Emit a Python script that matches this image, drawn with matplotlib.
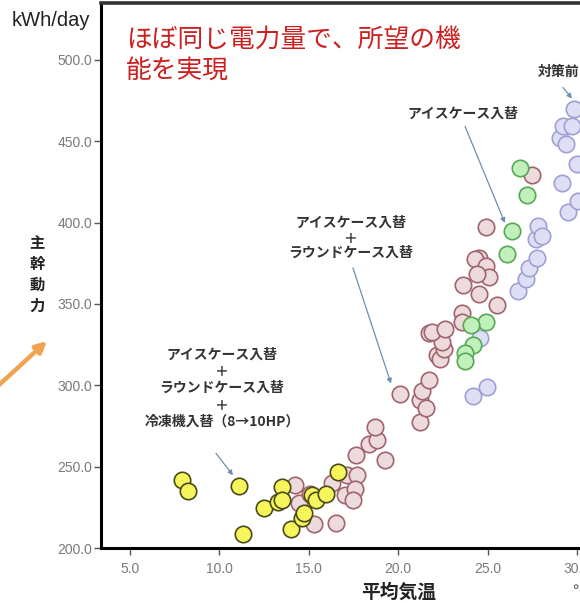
import matplotlib
matplotlib.use("Agg")
import matplotlib.pyplot as plt
from matplotlib.ticker import FormatStrFormatter

JP = ["Noto Sans CJK JP", "DejaVu Sans"]
LAT = ["Liberation Sans", "DejaVu Sans"]

# Daily main power (kWh/day) versus mean air temperature, by retrofit stage
before_temp = [24.20, 24.98, 24.57, 26.72, 27.15, 27.34, 27.75, 27.71, 27.84, 28.03,
               29.14, 29.50, 30.07, 29.98, 29.05, 29.40, 29.20, 29.70, 29.85]
before_kwh = [293.3, 298.9, 329.0, 358.1, 365.3, 372.4, 378.5, 389.8, 397.9, 391.8,
              424.2, 406.5, 413.2, 436.2, 452.0, 448.3, 459.5, 459.5, 470.0]

round_temp = [14.23, 14.45, 15.07, 15.31, 16.50, 16.32, 17.12, 17.71, 17.02, 17.60,
              17.50, 17.62, 18.38, 18.83, 18.70, 19.26,
              20.10, 21.22, 21.22, 21.53, 21.31, 21.72,
              22.19, 22.34, 22.58, 22.43, 21.75, 21.90, 22.62,
              23.55, 23.55, 23.61, 24.52, 25.51,
              24.52, 24.30, 24.91, 25.10, 24.39, 24.91, 27.47]
round_kwh = [238.6, 227.4, 233.5, 214.5, 215.5, 240.2, 244.7, 244.7, 232.5, 236.0,
             229.6, 257.2, 264.2, 266.6, 274.3, 253.9,
             294.5, 277.4, 290.7, 286.2, 296.8, 303.4,
             318.9, 316.2, 322.4, 326.4, 332.0, 332.6, 334.6,
             344.2, 338.7, 361.8, 356.4, 349.2,
             378.5, 377.5, 373.4, 366.7, 368.3, 397.5, 429.0]

ice_temp = [26.81, 27.22, 26.35, 26.07, 24.91, 24.09, 24.21, 23.74, 23.74]
ice_kwh = [433.3, 416.9, 394.9, 381.0, 339.0, 337.2, 325.0, 319.7, 315.2]

fridge_temp = [7.93, 8.23, 11.11, 11.30, 12.51, 13.26, 13.50, 13.48, 13.99, 14.60,
               14.73, 15.16, 15.40, 15.96, 16.62]
fridge_kwh = [242.1, 235.1, 238.2, 208.6, 224.7, 228.2, 237.6, 229.8, 211.5, 218.5,
              221.6, 232.5, 229.4, 233.5, 246.8]

x_ticks = [5.0, 10.0, 15.0, 20.0, 25.0, 30.0, 35.0]
y_ticks = [200.0, 250.0, 300.0, 350.0, 400.0, 450.0, 500.0]

fig = plt.figure(figsize=(5.8, 6.03), dpi=100)
fig.patch.set_facecolor("white")
ax = fig.add_axes([0.1741, 0.0912, 0.9131, 0.9038])

mk = dict(s=140, linewidths=1.2, zorder=3)
ax.scatter(before_temp, before_kwh, facecolor="#dedef4", edgecolor="#a0a0d4", **mk)
ax.scatter(round_temp, round_kwh, facecolor="#eddadd", edgecolor="#a0646e", **mk)
ax.scatter(ice_temp, ice_kwh, facecolor="#c2f0bb", edgecolor="#55a855", **mk)
ax.scatter(fridge_temp, fridge_kwh, facecolor="#f6f65c", edgecolor="#4a4a18", **mk)

ax.set_xticks(x_ticks)
ax.set_yticks(y_ticks)
ax.set_xlim(3.378, 33.0)
ax.set_ylim(200.0, 535.0)
ax.xaxis.set_major_formatter(FormatStrFormatter("%.1f"))
ax.yaxis.set_major_formatter(FormatStrFormatter("%.1f"))
ax.tick_params(axis="both", length=5, width=1, color="#555555",
               labelcolor="#7a7a7a", labelsize=10)
ax.tick_params(axis="y", pad=1.5)
ax.tick_params(axis="x", pad=5)
for lab in ax.get_xticklabels() + ax.get_yticklabels():
    lab.set_family(LAT)

ax.spines["left"].set_linewidth(2.2)
ax.spines["bottom"].set_linewidth(2.2)
ax.spines["top"].set_linewidth(2.6)
ax.spines["top"].set_color("#333333")
ax.spines["right"].set_visible(False)

# Callouts for each retrofit step
txt = dict(family=JP, fontsize=10, fontweight="bold", color="#333333",
           ha="center", va="center", zorder=5)
arr = dict(arrowstyle="-|>", color="#6f8fae", lw=0.9, mutation_scale=7,
           shrinkA=0, shrinkB=0)

ax.text(27.82, 492.9, "対策前", **{**txt, "ha": "left"})
ax.annotate("", xy=(29.72, 476.3), xytext=(29.22, 483.1), arrowprops=arr)

ax.text(23.62, 467.2, "アイスケース入替", **txt)
ax.annotate("", xy=(25.97, 399.8), xytext=(23.74, 459.2), arrowprops=arr)

ax.text(17.36, 390.6, "アイスケース入替\n＋\nラウンドケース入替", linespacing=1.1, **txt)
ax.annotate("", xy=(19.60, 301.1), xytext=(17.47, 372.2), arrowprops=arr)

ax.text(10.15, 298.3, "アイスケース入替\n＋\nラウンドケース入替\n＋\n冷凍機入替（8→10HP）",
        linespacing=1.25, **txt)
ax.annotate("", xy=(10.76, 244.7), xytext=(9.81, 258.2), arrowprops=arr)

# Headline, units and axis titles
fig.text(126 / 580, 1 - 40 / 603, "ほぼ同じ電力量で、所望の機", family=JP,
         fontsize=18.5, color="#cc2020", ha="left", va="center")
fig.text(126 / 580, 1 - 71 / 603, "能を実現", family=JP,
         fontsize=18.5, color="#cc2020", ha="left", va="center")

fig.text(12 / 580, 1 - 20 / 603, "kWh/day", family=LAT, fontsize=14.5,
         color="#222222", ha="left", va="center")

for i, ch in enumerate("主幹動力"):
    fig.text(37 / 580, 1 - (243.5 + 20.8 * i) / 603, ch, family=JP, fontsize=11,
             fontweight="bold", color="#222222", ha="center", va="center")

fig.text(399 / 580, 1 - 592 / 603, "平均気温", family=JP, fontsize=13.5,
         fontweight="bold", color="#222222", ha="center", va="center")
fig.text(572 / 580, 1 - 592 / 603, "℃", family=JP, fontsize=12,
         color="#555555", ha="left", va="center")

# Orange pointer on the left margin
fig.patches.append(matplotlib.patches.FancyArrowPatch(
    (-12 / 580, 1 - 395 / 603), (47 / 580, 1 - 341 / 603),
    transform=fig.transFigure, arrowstyle="-|>", mutation_scale=16,
    color="#f2a252", lw=3.2, shrinkA=0, shrinkB=0))

fig.savefig("out.png", dpi=100, facecolor="white")
